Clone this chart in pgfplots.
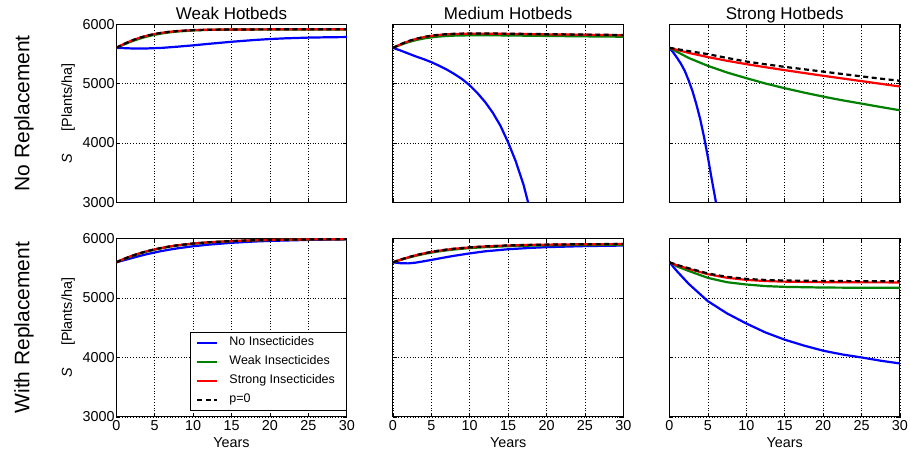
\documentclass[border=0pt]{standalone}
\usepackage{pgfplots}
\pgfplotsset{compat=1.18}
\usepgfplotslibrary{groupplots}
\usepackage{fontspec}
\setmainfont{Liberation Sans}
\definecolor{mblue}{rgb}{0,0,1}
\definecolor{mgreen}{rgb}{0,0.5,0}
\definecolor{mred}{rgb}{1,0,0}
\pgfplotsset{
  noins/.style={mblue, line width=2.2bp},
  weakins/.style={mgreen, line width=2.2bp},
  strongins/.style={mred, line width=2.2bp},
  pzero/.style={black, line width=2.2bp, dash pattern=on 5bp off 3.5bp},
}
\begin{document}
\begin{tikzpicture}
\begin{groupplot}[
  group style={group name=gp, group size=3 by 2, horizontal sep=46bp, vertical sep=36bp,
    xticklabels at=edge bottom, yticklabels at=edge left},
  scale only axis, width=230bp, height=178bp,
  clip mode=individual,
  xmin=0, xmax=30, ymin=3000, ymax=6000,
  xtick={0,5,...,30}, ytick={3000,4000,5000,6000},
  grid=major,
  major grid style={black, line width=0.6bp, dash pattern=on 1bp off 1.8bp},
  axis line style={line width=1bp},
  tick align=inside, major tick length=4bp,
  tick style={black, line width=0.7bp},
  /pgf/number format/assume math mode=true,
  /pgf/number format/1000 sep={},
  ticklabel style={font=\fontsize{14.4}{16}\selectfont},
  yticklabel style={xshift=2bp},
  title style={font=\fontsize{17}{19}\selectfont, at={(axis description cs:0.5,1)}, anchor=base, yshift=-1bp},
  label style={font=\fontsize{14.4}{16}\selectfont},
  xlabel style={at={(axis description cs:0.5,0)}, anchor=base, yshift=-31bp},
  ylabel style={at={(axis description cs:-0.209,0.5)}, anchor=center},
  legend style={font=\fontsize{12.5}{14}\selectfont, at={(axis description cs:0.998,0.034)},
    anchor=south east, draw=black, line width=0.7bp, inner xsep=6bp, inner ysep=1bp,
    row sep=0bp, column sep=6bp,
    nodes={inner xsep=5bp, inner ysep=3.5bp, text height=9bp, text depth=3bp}},
  legend cell align=left,
  legend image code/.code={\draw[#1, line width=2.2bp] (0bp,0bp) -- (20bp,0bp);},
]
% no replacement, weak hotbeds
\nextgroupplot[title=Weak Hotbeds, ylabel={{\itshape S}\hspace{22bp}[Plants/ha]}]
\node[rotate=90, font=\fontsize{21}{23}\selectfont] at (axis description cs:-0.4,0.5) {No Replacement};
\addplot[noins] coordinates {(0,5600)(2,5590)(4,5590)(6,5600)(8,5620)(10,5642)(12,5667)(15,5702)(18,5732)(20,5748)(22,5760)(25,5772)(28,5779)(30,5781)};
\addplot[weakins] coordinates {(0,5600)(1,5655)(2,5708)(3,5753)(4,5790)(5,5820)(6,5843)(7,5861)(8,5875)(10,5892)(12,5902)(15,5907)(20,5910)(30,5910)};
\addplot[strongins] coordinates {(0,5600)(1,5665)(2,5722)(3,5768)(4,5805)(5,5833)(6,5855)(7,5871)(8,5883)(10,5898)(12,5905)(15,5909)(20,5911)(25,5911)(30,5911)};
\addplot[pzero] coordinates {(0,5600)(1,5665)(2,5722)(3,5768)(4,5805)(5,5833)(6,5855)(7,5871)(8,5883)(10,5898)(12,5905)(15,5909)(20,5911)(25,5911)(30,5911)};
% no replacement, medium hotbeds
\nextgroupplot[title=Medium Hotbeds]
\addplot[noins] coordinates {(0,5600)(1,5555)(2,5505)(3,5455)(4,5410)(5,5360)(6,5300)(7,5235)(8,5160)(9,5075)(10,4970)(11,4840)(12,4690)(13,4510)(14,4290)(15,4010)(16,3690)(17,3300)(17.6,3000)};
\addplot[weakins] coordinates {(0,5600)(1,5650)(2,5695)(3,5730)(4,5757)(5,5776)(6,5790)(7,5799)(8,5805)(10,5811)(12,5812)(15,5808)(20,5800)(25,5793)(30,5787)};
\addplot[strongins] coordinates {(0,5600)(1,5658)(2,5709)(3,5749)(4,5779)(5,5801)(6,5817)(7,5827)(8,5833)(10,5839)(12,5839)(15,5835)(20,5827)(25,5820)(30,5812)};
\addplot[pzero] coordinates {(0,5600)(1,5660)(2,5712)(3,5752)(4,5782)(5,5804)(6,5820)(7,5830)(8,5836)(10,5842)(12,5842)(15,5838)(20,5830)(25,5823)(30,5816)};
% no replacement, strong hotbeds
\nextgroupplot[title=Strong Hotbeds]
\addplot[noins] coordinates {(0,5600)(0.5,5520)(1,5430)(1.5,5330)(2,5210)(2.5,5050)(3,4870)(3.5,4650)(4,4400)(4.5,4100)(5,3760)(5.5,3390)(6.05,3000)};
\addplot[weakins] coordinates {(0,5600)(2.5,5430)(5,5297)(7.5,5185)(10,5090)(12.5,5000)(15,4921)(17.5,4848)(20,4780)(22.5,4718)(25,4662)(27.5,4605)(30,4550)};
\addplot[strongins] coordinates {(0,5600)(2.5,5515)(5,5445)(7.5,5382)(10,5326)(12.5,5274)(15,5225)(17.5,5177)(20,5130)(22.5,5085)(25,5040)(27.5,4995)(30,4950)};
\addplot[pzero] coordinates {(0,5600)(2.5,5545)(5,5494)(7.5,5430)(10,5370)(12.5,5323)(15,5280)(17.5,5240)(20,5200)(22.5,5160)(25,5120)(27.5,5082)(30,5045)};
% with replacement, weak hotbeds
\nextgroupplot[xlabel=Years, ylabel={{\itshape S}\hspace{22bp}[Plants/ha]}]
\node[rotate=90, font=\fontsize{21}{23}\selectfont] at (axis description cs:-0.4,0.5) {With Replacement};
\addplot[noins] coordinates {(0,5600)(1,5635)(2,5670)(3,5705)(4,5737)(5,5766)(6,5792)(7,5815)(8,5836)(10,5870)(12,5897)(15,5928)(18,5950)(20,5960)(25,5977)(30,5986)};
\addplot[weakins] coordinates {(0,5600)(1,5654)(2,5703)(3,5745)(4,5782)(5,5813)(6,5840)(7,5864)(8,5883)(10,5912)(12,5934)(15,5955)(18,5969)(20,5975)(25,5985)(30,5989)};
\addplot[strongins] coordinates {(0,5600)(1,5658)(2,5708)(3,5750)(4,5787)(5,5818)(6,5845)(7,5868)(8,5887)(10,5916)(12,5937)(15,5958)(18,5971)(20,5977)(25,5986)(30,5990)};
\addplot[pzero] coordinates {(0,5600)(1,5658)(2,5708)(3,5750)(4,5787)(5,5818)(6,5845)(7,5868)(8,5887)(10,5916)(12,5937)(15,5958)(18,5971)(20,5977)(25,5986)(30,5990)};
\legend{No Insecticides, Weak Insecticides, Strong Insecticides, p=0}
% with replacement, medium hotbeds
\nextgroupplot[xlabel=Years]
\addplot[noins] coordinates {(0,5600)(1,5585)(2,5582)(3,5595)(4,5617)(5,5640)(6,5664)(7,5688)(8,5710)(10,5750)(12,5785)(15,5820)(18,5843)(20,5855)(25,5873)(30,5882)};
\addplot[weakins] coordinates {(0,5600)(1,5640)(2,5677)(3,5710)(4,5739)(5,5763)(6,5784)(7,5801)(8,5816)(10,5839)(12,5855)(15,5871)(18,5881)(20,5885)(25,5892)(30,5895)};
\addplot[strongins] coordinates {(0,5600)(1,5644)(2,5684)(3,5719)(4,5749)(5,5774)(6,5795)(7,5813)(8,5828)(10,5851)(12,5867)(15,5883)(18,5893)(20,5897)(25,5904)(30,5907)};
\addplot[pzero] coordinates {(0,5600)(1,5645)(2,5685)(3,5720)(4,5750)(5,5775)(6,5796)(7,5814)(8,5829)(10,5852)(12,5868)(15,5884)(18,5894)(20,5898)(25,5905)(30,5908)};
% with replacement, strong hotbeds
\nextgroupplot[xlabel=Years]
\addplot[noins] coordinates {(0,5600)(1,5447)(2.5,5238)(5,4946)(7.5,4740)(10,4571)(12.5,4420)(15,4299)(17.5,4200)(20,4114)(22.5,4050)(25,4000)(27.5,3945)(30,3899)};
\addplot[weakins] coordinates {(0,5600)(1,5530)(2.5,5455)(5,5338)(7.5,5265)(10,5227)(12.5,5200)(15,5187)(20,5176)(25,5172)(30,5171)};
\addplot[strongins] coordinates {(0,5600)(1,5550)(2.5,5490)(5,5400)(7.5,5340)(10,5305)(12.5,5285)(15,5275)(20,5266)(25,5263)(30,5262)};
\addplot[pzero] coordinates {(0,5600)(1,5555)(2.5,5500)(5,5412)(7.5,5355)(10,5321)(12.5,5303)(15,5294)(20,5286)(25,5283)(30,5282)};
\end{groupplot}
\pgfresetboundingbox
\path[use as bounding box] ([xshift=-116bp,yshift=24bp]gp c1r1.north west) rectangle ([xshift=10bp,yshift=-36bp]gp c3r2.south east);
\end{tikzpicture}
\end{document}
